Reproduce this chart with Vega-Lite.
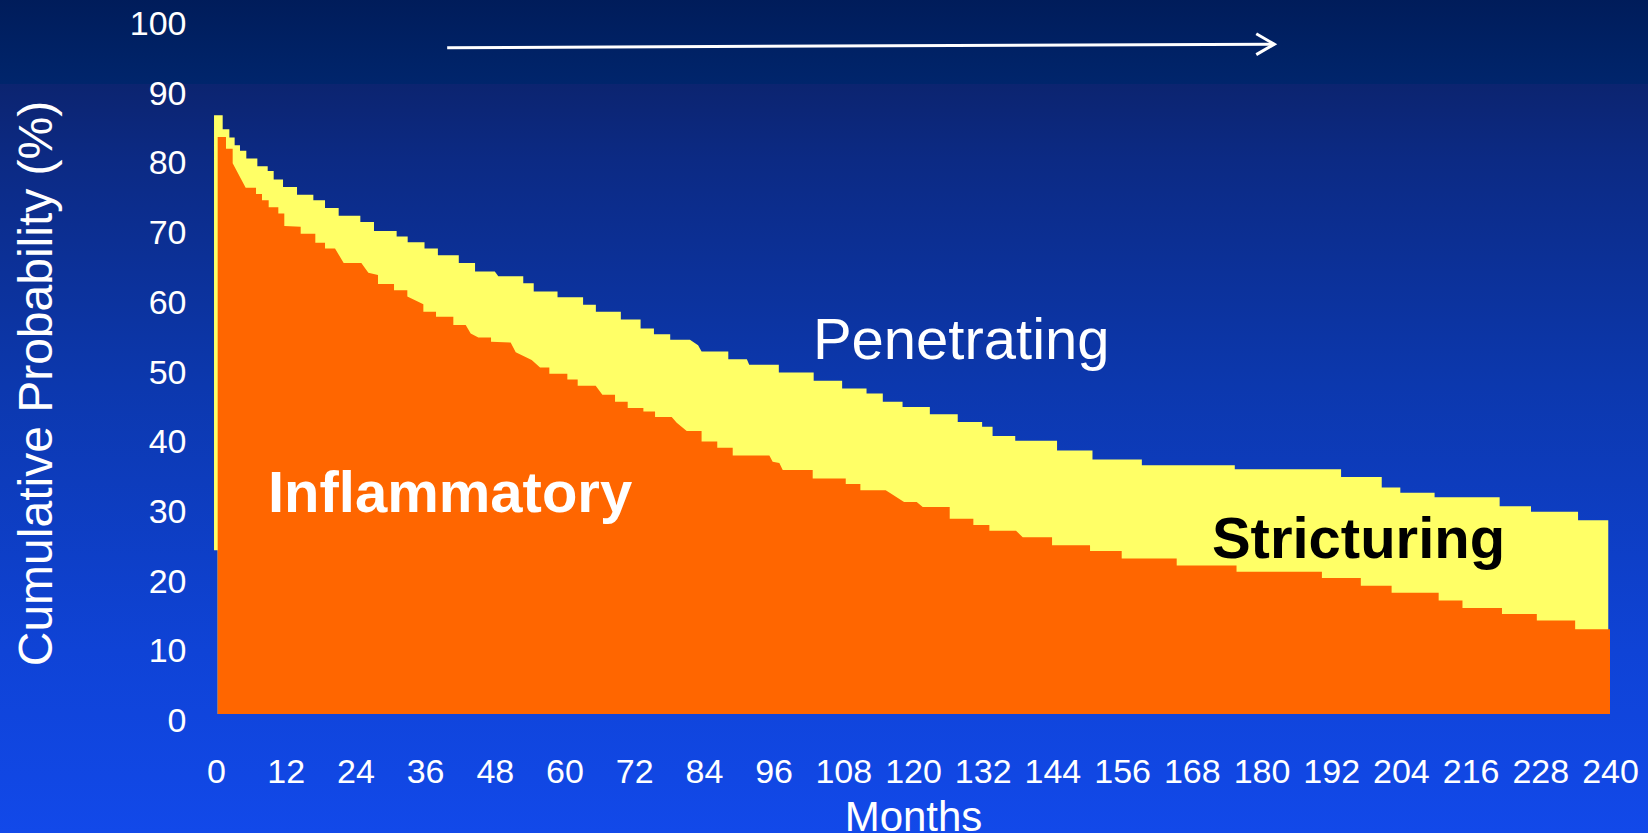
{
  "$schema": "https://vega.github.io/schema/vega-lite/v6.json",
  "width": 1394,
  "height": 697,
  "autosize": {"type": "none"},
  "padding": {"left": 216, "top": 17, "right": 38, "bottom": 119},
  "background": "#1249ea",
  "config": {
    "view": {"stroke": null},
    "font": "Liberation Sans",
    "axis": {"grid": false, "domain": false, "ticks": false, "tickSize": 0}
  },
  "datasets": {
    "stricturing": [
      {"m": -0.34, "top": 85.9, "base": 23.5},
      {"m": 0.28, "top": 85.9, "base": 23.5},
      {"m": 0.29, "top": 85.9, "base": 0},
      {"m": 1.15, "top": 85.9, "base": 0},
      {"m": 1.15, "top": 83.9, "base": 0},
      {"m": 2.3, "top": 83.9, "base": 0},
      {"m": 2.3, "top": 82.7, "base": 0},
      {"m": 3.21, "top": 82.7, "base": 0},
      {"m": 3.21, "top": 81.6, "base": 0},
      {"m": 4.13, "top": 81.6, "base": 0},
      {"m": 4.13, "top": 80.8, "base": 0},
      {"m": 5.22, "top": 80.8, "base": 0},
      {"m": 5.22, "top": 79.7, "base": 0},
      {"m": 7.12, "top": 79.7, "base": 0},
      {"m": 7.12, "top": 78.6, "base": 0},
      {"m": 8.9, "top": 78.6, "base": 0},
      {"m": 8.9, "top": 77.9, "base": 0},
      {"m": 9.93, "top": 77.9, "base": 0},
      {"m": 9.93, "top": 76.7, "base": 0},
      {"m": 11.54, "top": 76.7, "base": 0},
      {"m": 11.54, "top": 75.6, "base": 0},
      {"m": 13.95, "top": 75.6, "base": 0},
      {"m": 13.95, "top": 74.5, "base": 0},
      {"m": 16.76, "top": 74.5, "base": 0},
      {"m": 16.76, "top": 73.7, "base": 0},
      {"m": 18.77, "top": 73.7, "base": 0},
      {"m": 18.77, "top": 72.6, "base": 0},
      {"m": 21.12, "top": 72.6, "base": 0},
      {"m": 21.12, "top": 71.5, "base": 0},
      {"m": 24.85, "top": 71.5, "base": 0},
      {"m": 24.85, "top": 70.6, "base": 0},
      {"m": 27.2, "top": 70.6, "base": 0},
      {"m": 27.2, "top": 69.3, "base": 0},
      {"m": 31.1, "top": 69.3, "base": 0},
      {"m": 31.1, "top": 68.5, "base": 0},
      {"m": 33.0, "top": 68.5, "base": 0},
      {"m": 33.0, "top": 67.7, "base": 0},
      {"m": 35.9, "top": 67.7, "base": 0},
      {"m": 35.9, "top": 66.8, "base": 0},
      {"m": 38.2, "top": 66.8, "base": 0},
      {"m": 38.2, "top": 65.8, "base": 0},
      {"m": 41.8, "top": 65.8, "base": 0},
      {"m": 41.8, "top": 64.7, "base": 0},
      {"m": 44.6, "top": 64.7, "base": 0},
      {"m": 44.6, "top": 63.5, "base": 0},
      {"m": 48.0, "top": 63.5, "base": 0},
      {"m": 48.6, "top": 62.8, "base": 0},
      {"m": 52.9, "top": 62.8, "base": 0},
      {"m": 52.9, "top": 61.8, "base": 0},
      {"m": 54.7, "top": 61.8, "base": 0},
      {"m": 54.7, "top": 60.6, "base": 0},
      {"m": 58.8, "top": 60.6, "base": 0},
      {"m": 58.8, "top": 59.8, "base": 0},
      {"m": 63.2, "top": 59.8, "base": 0},
      {"m": 63.2, "top": 58.7, "base": 0},
      {"m": 65.4, "top": 58.7, "base": 0},
      {"m": 65.4, "top": 57.7, "base": 0},
      {"m": 69.7, "top": 57.7, "base": 0},
      {"m": 69.7, "top": 56.6, "base": 0},
      {"m": 73.1, "top": 56.6, "base": 0},
      {"m": 73.1, "top": 55.3, "base": 0},
      {"m": 75.4, "top": 55.3, "base": 0},
      {"m": 75.4, "top": 54.5, "base": 0},
      {"m": 78.2, "top": 54.5, "base": 0},
      {"m": 78.2, "top": 53.7, "base": 0},
      {"m": 81.6, "top": 53.7, "base": 0},
      {"m": 83.0, "top": 52.9, "base": 0},
      {"m": 83.6, "top": 52.0, "base": 0},
      {"m": 88.2, "top": 52.0, "base": 0},
      {"m": 88.2, "top": 50.9, "base": 0},
      {"m": 91.4, "top": 50.9, "base": 0},
      {"m": 91.8, "top": 50.1, "base": 0},
      {"m": 96.9, "top": 50.1, "base": 0},
      {"m": 96.9, "top": 49.0, "base": 0},
      {"m": 102.9, "top": 49.0, "base": 0},
      {"m": 102.9, "top": 47.8, "base": 0},
      {"m": 107.8, "top": 47.8, "base": 0},
      {"m": 107.8, "top": 46.7, "base": 0},
      {"m": 112.0, "top": 46.7, "base": 0},
      {"m": 112.0, "top": 46.0, "base": 0},
      {"m": 114.8, "top": 46.0, "base": 0},
      {"m": 114.8, "top": 44.8, "base": 0},
      {"m": 118.2, "top": 44.8, "base": 0},
      {"m": 118.2, "top": 44.05, "base": 0},
      {"m": 122.9, "top": 44.05, "base": 0},
      {"m": 122.9, "top": 43.0, "base": 0},
      {"m": 127.7, "top": 43.0, "base": 0},
      {"m": 127.7, "top": 41.9, "base": 0},
      {"m": 131.9, "top": 41.9, "base": 0},
      {"m": 131.9, "top": 41.2, "base": 0},
      {"m": 133.7, "top": 41.2, "base": 0},
      {"m": 133.7, "top": 39.9, "base": 0},
      {"m": 137.6, "top": 39.9, "base": 0},
      {"m": 137.6, "top": 39.2, "base": 0},
      {"m": 144.8, "top": 39.2, "base": 0},
      {"m": 144.8, "top": 37.8, "base": 0},
      {"m": 150.9, "top": 37.8, "base": 0},
      {"m": 150.9, "top": 36.5, "base": 0},
      {"m": 159.4, "top": 36.5, "base": 0},
      {"m": 159.4, "top": 35.7, "base": 0},
      {"m": 175.4, "top": 35.7, "base": 0},
      {"m": 175.4, "top": 35.1, "base": 0},
      {"m": 193.7, "top": 35.1, "base": 0},
      {"m": 193.7, "top": 34.0, "base": 0},
      {"m": 200.7, "top": 34.0, "base": 0},
      {"m": 200.7, "top": 32.5, "base": 0},
      {"m": 203.9, "top": 32.5, "base": 0},
      {"m": 203.9, "top": 31.75, "base": 0},
      {"m": 209.8, "top": 31.75, "base": 0},
      {"m": 209.8, "top": 31.1, "base": 0},
      {"m": 221.0, "top": 31.1, "base": 0},
      {"m": 221.0, "top": 29.8, "base": 0},
      {"m": 226.4, "top": 29.8, "base": 0},
      {"m": 226.4, "top": 29.0, "base": 0},
      {"m": 234.5, "top": 29.0, "base": 0},
      {"m": 234.5, "top": 27.8, "base": 0},
      {"m": 239.7, "top": 27.8, "base": 0}
    ],
    "inflammatory": [
      {"m": 0.29, "v": 82.8},
      {"m": 1.72, "v": 82.8},
      {"m": 1.72, "v": 81.1},
      {"m": 2.87, "v": 81.1},
      {"m": 2.87, "v": 79.0},
      {"m": 5.11, "v": 75.5},
      {"m": 6.89, "v": 75.5},
      {"m": 6.89, "v": 74.6},
      {"m": 7.92, "v": 74.6},
      {"m": 7.92, "v": 73.7},
      {"m": 9.07, "v": 73.7},
      {"m": 9.07, "v": 72.7},
      {"m": 10.73, "v": 72.7},
      {"m": 10.73, "v": 71.8},
      {"m": 11.76, "v": 71.8},
      {"m": 11.76, "v": 70.0},
      {"m": 14.58, "v": 69.9},
      {"m": 14.58, "v": 68.9},
      {"m": 17.1, "v": 68.9},
      {"m": 17.1, "v": 67.6},
      {"m": 18.77, "v": 67.6},
      {"m": 18.77, "v": 66.8},
      {"m": 20.49, "v": 66.8},
      {"m": 21.98, "v": 64.7},
      {"m": 25.02, "v": 64.7},
      {"m": 26.23, "v": 63.3},
      {"m": 27.89, "v": 63.0},
      {"m": 27.89, "v": 61.7},
      {"m": 30.65, "v": 61.7},
      {"m": 30.65, "v": 60.8},
      {"m": 32.94, "v": 60.8},
      {"m": 32.94, "v": 59.9},
      {"m": 35.7, "v": 58.8},
      {"m": 35.7, "v": 57.7},
      {"m": 37.88, "v": 57.7},
      {"m": 37.88, "v": 57.0},
      {"m": 40.86, "v": 57.0},
      {"m": 40.86, "v": 55.8},
      {"m": 42.99, "v": 55.8},
      {"m": 43.85, "v": 54.6},
      {"m": 45.17, "v": 54.0},
      {"m": 47.35, "v": 54.0},
      {"m": 47.35, "v": 53.4},
      {"m": 50.73, "v": 53.3},
      {"m": 51.6, "v": 51.9},
      {"m": 54.35, "v": 50.8},
      {"m": 55.79, "v": 49.7},
      {"m": 57.39, "v": 49.7},
      {"m": 57.39, "v": 48.8},
      {"m": 60.49, "v": 48.8},
      {"m": 60.49, "v": 48.0},
      {"m": 62.27, "v": 48.0},
      {"m": 62.27, "v": 47.1},
      {"m": 65.37, "v": 47.1},
      {"m": 66.52, "v": 45.8},
      {"m": 68.7, "v": 45.8},
      {"m": 68.7, "v": 44.8},
      {"m": 70.88, "v": 44.8},
      {"m": 70.88, "v": 43.9},
      {"m": 73.58, "v": 43.9},
      {"m": 73.58, "v": 43.4},
      {"m": 75.59, "v": 43.4},
      {"m": 75.59, "v": 42.6},
      {"m": 78.46, "v": 42.6},
      {"m": 79.32, "v": 41.8},
      {"m": 81.04, "v": 40.6},
      {"m": 83.6, "v": 40.6},
      {"m": 83.6, "v": 39.1},
      {"m": 86.3, "v": 39.1},
      {"m": 86.3, "v": 38.2},
      {"m": 88.96, "v": 38.2},
      {"m": 88.96, "v": 37.1},
      {"m": 95.27, "v": 37.1},
      {"m": 95.84, "v": 36.2},
      {"m": 96.99, "v": 36.0},
      {"m": 97.57, "v": 35.0},
      {"m": 102.73, "v": 35.0},
      {"m": 102.73, "v": 33.8},
      {"m": 108.42, "v": 33.8},
      {"m": 108.42, "v": 33.0},
      {"m": 110.94, "v": 33.0},
      {"m": 110.94, "v": 32.1},
      {"m": 115.3, "v": 32.1},
      {"m": 116.05, "v": 31.7},
      {"m": 118.46, "v": 30.4},
      {"m": 120.64, "v": 30.4},
      {"m": 121.67, "v": 29.7},
      {"m": 126.32, "v": 29.7},
      {"m": 126.32, "v": 28.0},
      {"m": 130.39, "v": 28.0},
      {"m": 130.39, "v": 27.1},
      {"m": 133.15, "v": 27.1},
      {"m": 133.15, "v": 26.3},
      {"m": 137.74, "v": 26.3},
      {"m": 138.89, "v": 25.35},
      {"m": 143.94, "v": 25.35},
      {"m": 143.94, "v": 24.2},
      {"m": 150.48, "v": 24.2},
      {"m": 150.48, "v": 23.4},
      {"m": 155.93, "v": 23.4},
      {"m": 155.93, "v": 22.3},
      {"m": 165.4, "v": 22.3},
      {"m": 165.4, "v": 21.3},
      {"m": 175.7, "v": 21.3},
      {"m": 175.7, "v": 20.4},
      {"m": 190.4, "v": 20.4},
      {"m": 190.4, "v": 19.5},
      {"m": 197.1, "v": 19.5},
      {"m": 197.1, "v": 18.4},
      {"m": 202.4, "v": 18.4},
      {"m": 202.4, "v": 17.4},
      {"m": 210.5, "v": 17.4},
      {"m": 210.5, "v": 16.3},
      {"m": 214.6, "v": 16.3},
      {"m": 214.6, "v": 15.2},
      {"m": 221.4, "v": 15.2},
      {"m": 221.4, "v": 14.35},
      {"m": 227.4, "v": 14.35},
      {"m": 227.4, "v": 13.4},
      {"m": 234.0, "v": 13.4},
      {"m": 234.0, "v": 12.15},
      {"m": 240.0, "v": 12.15}
    ]
  },
  "layer": [
    {
      "data": {"values": [{}]},
      "mark": {
        "type": "rect",
        "stroke": null,
        "fill": {
          "gradient": "linear", "x1": 0, "y1": 0, "x2": 0, "y2": 1,
          "stops": [
            {"offset": 0, "color": "#001b58"},
            {"offset": 1, "color": "#00256c"}
          ]
        }
      },
      "encoding": {
        "x": {
          "datum": -40, "type": "quantitative",
          "scale": {"domain": [0, 240], "nice": false, "zero": false},
          "axis": {
            "zindex": 1,
            "values": [0, 12, 24, 36, 48, 60, 72, 84, 96, 108, 120, 132, 144, 156, 168, 180, 192, 204, 216, 228, 240],
            "labelFontSize": 34, "labelColor": "#ffffff", "labelBaseline": "alphabetic",
            "labelPadding": 68, "labelFlush": false, "labelOverlap": false, "labelBound": false,
            "title": "Months", "titleFontSize": 42, "titleFontWeight": "normal", "titleColor": "#ffffff",
            "titleBaseline": "alphabetic", "titleY": 116
          }
        },
        "x2": {"datum": 250},
        "y": {
          "datum": 104, "type": "quantitative",
          "scale": {"domain": [0, 100], "nice": false},
          "axis": {
            "zindex": 1,
            "values": [0, 10, 20, 30, 40, 50, 60, 70, 80, 90, 100],
            "labelFontSize": 34, "labelColor": "#ffffff", "labelBaseline": "alphabetic",
            "labelOffset": 17.5, "labelPadding": 30, "labelOverlap": false, "labelBound": false, "labelFlush": false,
            "title": "Cumulative Probability (%)", "titleFontSize": 48, "titleFontWeight": "normal",
            "titleColor": "#ffffff", "titleAngle": 270, "titleAlign": "center", "titleBaseline": "alphabetic",
            "titleX": -165, "titleY": 366
          }
        },
        "y2": {"datum": 90.4}
      }
    },
    {
      "data": {"values": [{}]},
      "mark": {
        "type": "rect",
        "stroke": null,
        "fill": {
          "gradient": "linear", "x1": 0, "y1": 0, "x2": 0, "y2": 1,
          "stops": [
            {"offset": 0, "color": "#0c2470"},
            {"offset": 0.1, "color": "#0c2a84"},
            {"offset": 0.4, "color": "#0c38ae"},
            {"offset": 0.75, "color": "#0f43d6"},
            {"offset": 1, "color": "#1249ea"}
          ]
        }
      },
      "encoding": {
        "x": {"datum": -40, "type": "quantitative", "scale": {"domain": [0, 240], "nice": false, "zero": false}},
        "x2": {"datum": 250},
        "y": {"datum": 90.4, "type": "quantitative", "scale": {"domain": [0, 100], "nice": false}},
        "y2": {"datum": -18}
      }
    },
    {
      "data": {"name": "stricturing"},
      "mark": {"type": "area", "interpolate": "linear", "color": "#ffff66"},
      "encoding": {
        "x": {"field": "m", "type": "quantitative", "scale": {"domain": [0, 240], "nice": false, "zero": false}},
        "y": {"field": "top", "type": "quantitative", "scale": {"domain": [0, 100], "nice": false}},
        "y2": {"field": "base"}
      }
    },
    {
      "data": {"name": "inflammatory"},
      "mark": {"type": "area", "interpolate": "linear", "color": "#ff6600"},
      "encoding": {
        "x": {"field": "m", "type": "quantitative", "scale": {"domain": [0, 240], "nice": false, "zero": false}},
        "y": {"field": "v", "type": "quantitative", "scale": {"domain": [0, 100], "nice": false}},
        "y2": {"datum": 0}
      }
    },
    {
      "data": {"values": [{}]},
      "mark": {"type": "rule", "color": "#ffffff", "strokeWidth": 3},
      "encoding": {
        "x": {"datum": 39.8, "type": "quantitative", "scale": {"domain": [0, 240], "nice": false, "zero": false}},
        "x2": {"datum": 182.2},
        "y": {"datum": 95.6, "type": "quantitative", "scale": {"domain": [0, 100], "nice": false}},
        "y2": {"datum": 96.1}
      }
    },
    {
      "data": {"values": [{}]},
      "mark": {
        "type": "point", "shape": "M-1,-0.58L0,0L-1,0.58", "size": 1296,
        "filled": false, "stroke": "#ffffff", "strokeWidth": 3, "opacity": 1
      },
      "encoding": {
        "x": {"datum": 182.2, "type": "quantitative", "scale": {"domain": [0, 240], "nice": false, "zero": false}},
        "y": {"datum": 96.1, "type": "quantitative", "scale": {"domain": [0, 100], "nice": false}}
      }
    },
    {
      "data": {"values": [{}]},
      "mark": {"type": "text", "text": "Penetrating", "font": "Liberation Sans", "fontSize": 58, "color": "#ffffff", "align": "center", "baseline": "alphabetic"},
      "encoding": {
        "x": {"datum": 128.3, "type": "quantitative", "scale": {"domain": [0, 240], "nice": false, "zero": false}},
        "y": {"datum": 50.9, "type": "quantitative", "scale": {"domain": [0, 100], "nice": false}}
      }
    },
    {
      "data": {"values": [{}]},
      "mark": {"type": "text", "text": "Inflammatory", "font": "Liberation Sans", "fontSize": 58, "fontWeight": "bold", "color": "#ffffff", "align": "center", "baseline": "alphabetic"},
      "encoding": {
        "x": {"datum": 40.3, "type": "quantitative", "scale": {"domain": [0, 240], "nice": false, "zero": false}},
        "y": {"datum": 29.0, "type": "quantitative", "scale": {"domain": [0, 100], "nice": false}}
      }
    },
    {
      "data": {"values": [{}]},
      "mark": {"type": "text", "text": "Stricturing", "font": "Liberation Sans", "fontSize": 58, "fontWeight": "bold", "color": "#000000", "align": "center", "baseline": "alphabetic"},
      "encoding": {
        "x": {"datum": 196.7, "type": "quantitative", "scale": {"domain": [0, 240], "nice": false, "zero": false}},
        "y": {"datum": 22.4, "type": "quantitative", "scale": {"domain": [0, 100], "nice": false}}
      }
    }
  ]
}
